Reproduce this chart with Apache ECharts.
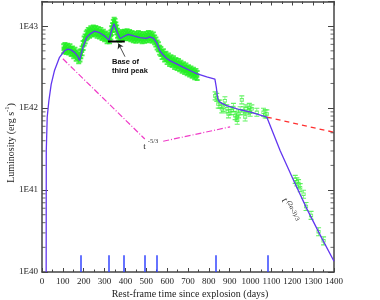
<!DOCTYPE html>
<html><head><meta charset="utf-8">
<script src="https://cdn.jsdelivr.net/npm/echarts@6/dist/echarts.min.js"></script>
<style>html,body{margin:0;padding:0;background:#fff}#c{width:380px;height:300px}</style>
</head><body><div id="c"></div>
<script>
// Model light curve (days, erg/s)
const modelCurve = [[20,1.0e40],[20.5,3.0e41],[25,7.8e41],[33,1.23e42],[44,1.95e42],[60,2.88e42],[84,4.17e42],[108,5.01e42],[124,5.25e42],[140,5.13e42],[156,4.79e42],[172,4.27e42],[180,3.80e42],[196,5.50e42],[213,7.24e42],[228,7.94e42],[252,8.71e42],[276,8.32e42],[300,7.59e42],[321,6.76e42],[333,8.71e42],[345,1.07e43],[352,1.05e43],[362,8.32e42],[374,7.08e42],[397,7.59e42],[413,7.94e42],[440,7.59e42],[469,7.24e42],[500,7.08e42],[517,7.41e42],[535,7.08e42],[549,6.31e42],[565,5.01e42],[580,4.47e42],[597,4.07e42],[613,3.80e42],[645,3.47e42],[676,3.16e42],[709,2.88e42],[741,2.63e42],[790,2.40e42],[829,2.26e42],[836,1.78e42],[842,1.32e42],[850,1.20e42],[861,1.15e42],[885,1.07e42],[950,9.55e41],[1000,8.91e41],[1078,7.76e41],[1142,3.02e41],[1206,1.32e41],[1270,5.89e40],[1340,2.63e40],[1400,1.35e40]];
// t^-5/3 guide (two segments)
const guideA = [[100,4.0e42],[493,4.2e41]];
const guideB = [[581,3.94e41],[902,5.9e41]];
// red dashed extension
const redExt = [[1078,7.76e41],[1400,5.07e41]];
// base of third peak
const basePeak = [[316,6.5e42],[397,6.5e42]];
// epochs marked at bottom
const epochDays = [185,321,392,494,549,833,1081];
// observed data
const greenDense = [[104,5.3e42],[110,5.5e42],[116,5.2e42],[122,5.4e42],[128,5.1e42],[134,5.3e42],[140,4.9e42],[146,5.0e42],[152,4.6e42],[158,4.8e42],[164,4.3e42],[170,4.5e42],[176,4.0e42],[182,4.2e42],[186,4.6e42],
[192,5.0e42],[197,5.8e42],[202,6.6e42],[207,7.0e42],[212,7.6e42],[217,7.9e42],[222,8.4e42],[228,8.2e42],[234,8.8e42],
[240,8.5e42],[246,9.0e42],[252,8.6e42],[258,8.9e42],[264,8.2e42],[270,8.6e42],[276,8.0e42],[282,8.4e42],[288,7.7e42],[294,8.0e42],[300,7.4e42],[306,7.6e42],[312,7.0e42],[318,7.3e42],[324,7.0e42],
[330,7.8e42],[334,8.8e42],[338,9.6e42],[342,1.05e43],[346,1.12e43],[350,1.08e43],[354,9.8e42],[358,9.0e42],[362,8.2e42],[366,7.6e42],[372,7.3e42],
[378,7.6e42],[384,7.9e42],[390,7.6e42],[396,8.0e42],[402,7.7e42],[408,8.1e42],[414,7.6e42],[420,7.9e42],[426,7.4e42],[432,7.7e42],[438,7.2e42],[444,7.5e42],[450,7.1e42],[456,7.4e42],[462,7.7e42],[468,7.2e42],[474,7.5e42],[480,7.0e42],[486,7.4e42],[492,7.1e42],[498,7.5e42],[504,7.2e42],[510,7.7e42],[516,7.3e42],[522,7.6e42],[528,7.1e42],[534,7.4e42],[540,6.8e42],[546,6.4e42],[552,5.9e42],[558,5.6e42],[564,5.1e42],[570,4.9e42],[576,4.5e42],[582,4.6e42],[588,4.2e42],[594,4.3e42],[600,3.9e42],[606,4.1e42],[612,3.7e42],[618,3.9e42],[624,3.6e42],[630,3.8e42],[636,3.4e42],[642,3.6e42],[648,3.3e42],[654,3.5e42],[660,3.2e42],[666,3.35e42],[672,3.05e42],[678,3.2e42],[684,2.95e42],[690,3.1e42],[696,2.85e42],[702,2.95e42],[708,2.75e42],[714,2.85e42],[720,2.65e42],[726,2.75e42],[732,2.55e42],[738,2.65e42],[744,2.5e42]];
const greenSparse = [[830,1.41e42],[838,1.35e42],[845,1.12e42],[853,1.12e42],[862,9.8e41],[869,1.02e42],[877,1.23e42],[886,9.8e41],[894,8.5e41],[902,9.3e41],[910,9.3e41],[918,1.02e42],[926,8.1e41],[934,7.8e41],[936,7.1e41],[942,8.5e41],[950,9.3e41],[958,1.26e42],[966,9.3e41],[974,7.8e41],[978,9.8e41],[990,9.3e41],[994,1.02e42],[998,8.9e41],[1006,9.8e41],[1030,8.9e41],[1062,8.9e41],[1070,8.5e41],[1078,8.5e41],
[1214,1.35e41],[1222,1.26e41],[1230,1.2e41],[1238,1.07e41],[1254,8.9e40],[1266,6.3e40],[1290,4.9e40],[1326,3.1e40],[1350,2.4e40]];
const yMajor = [1e40,1e41,1e42,1e43];
const yMinorMult = [2,3,4,5,6,7,8,9];
const yMinorDecades = [1e40,1e41,1e42];

const minorVals = [];
yMinorDecades.forEach(d => yMinorMult.forEach(m => minorVals.push(d*m)));

const errSym = 'path://M0,0H6M3,0V3.5M1,3.5H5V6.5H1ZM3,6.5V10M0,10H6';
const serif = 'Liberation Serif';
const axisCol = '#444';

const chart = echarts.init(document.getElementById('c'), null, {renderer:'canvas'});
const xAxisBase = {
  type:'value', min:0, max:1400, interval:100,
  axisLine:{show:true, onZero:false, lineStyle:{color:axisCol, width:1.5}},
  axisTick:{show:true, inside:true, length:4, lineStyle:{color:axisCol, width:1}},
  minorTick:{show:true, splitNumber:2, length:2.5, lineStyle:{color:axisCol, width:1}},
  splitLine:{show:false}, minorSplitLine:{show:false}
};
const yAxisBase = {
  type:'log', logBase:10, min:1e40, max:2e43,
  axisLine:{show:true, onZero:false, lineStyle:{color:axisCol, width:1.5}},
  axisTick:{show:true, inside:true, length:6, lineStyle:{color:axisCol, width:1}},
  splitLine:{show:false}
};
const fmtY = v => {
  const l = Math.log10(v), e = Math.round(l);
  if (Math.abs(l - e) > 1e-6) return '';
  const idx = yMajor.findIndex(t => Math.abs(Math.log10(t) - e) < 1e-6);
  return idx >= 0 ? '1E' + e : '';
};

chart.setOption({
  animation:false,
  backgroundColor:'#fff',
  grid:{left:42, top:1.5, width:292, height:270.5, outerBoundsMode:'none'},
  xAxis:[
    Object.assign({}, xAxisBase, {position:'bottom',
      axisLabel:{show:true, color:'#222', fontFamily:serif, fontSize:9, margin:5, formatter: v => String(v)}}),
    Object.assign({}, xAxisBase, {position:'top', axisLabel:{show:false}})
  ],
  yAxis:[
    Object.assign({}, yAxisBase, {position:'left',
      axisLabel:{show:true, color:'#222', fontFamily:serif, fontSize:9, margin:4, formatter:fmtY}}),
    Object.assign({}, yAxisBase, {position:'right', axisLabel:{show:false}})
  ],
  series:[
    {type:'scatter', data:greenDense, symbol:errSym, symbolSize:[5,9], clip:false, z:2,
     itemStyle:{color:'#2ee62e', borderColor:'#22ee22', borderWidth:1.4}},
    {type:'scatter', data:greenSparse, symbol:errSym, symbolSize:[5,8], clip:false, z:2,
     itemStyle:{color:'transparent', borderColor:'#3cf03c', borderWidth:0.9}},
    {type:'line', data:guideA, showSymbol:false, z:3,
     lineStyle:{color:'#f03cc8', width:1.2, type:[6,2,1,2]}},
    {type:'line', data:guideB, showSymbol:false, z:3,
     lineStyle:{color:'#f03cc8', width:1.2, type:[6,2,1,2]}},
    {type:'line', data:redExt, showSymbol:false, z:3,
     lineStyle:{color:'#ff3030', width:1.3, type:[5,4]}},
    {type:'line', data:modelCurve, showSymbol:false, z:4,
     lineStyle:{color:'#6236f0', width:1.3},
     markLine:{silent:true, symbol:'none', label:{show:false},
       lineStyle:{color:'#3344ff', width:1.5, type:'solid'},
       data: epochDays.map(d => [{coord:[d,1e40]},{coord:[d,1.6e40]}])}},
    {type:'line', data:basePeak, showSymbol:false, z:5,
     lineStyle:{color:'#000', width:2},
     markLine:{silent:true, symbol:['none','arrow'], symbolSize:5, label:{show:false},
       lineStyle:{color:'#222', width:0.8, type:'solid'},
       data:[[{coord:[398,4.24e42]},{coord:[366,6.15e42]}]]}},
    {type:'scatter', data:minorVals.map(v=>[0,v]), symbol:'rect', symbolSize:[3.5,1], symbolOffset:[1.75,0], clip:false, z:6,
     itemStyle:{color:axisCol}},
    {type:'scatter', data:minorVals.map(v=>[1400,v]), symbol:'rect', symbolSize:[3.5,1], symbolOffset:[-1.75,0], clip:false, z:6,
     itemStyle:{color:axisCol}}
  ],
  graphic:[
    {type:'text', x:112, y:57, style:{text:'Base of\nthird peak', font:'bold 7.5px Arial', fill:'#111', textAlign:'left', textVerticalAlign:'top', lineHeight:9}},
    {type:'text', x:144.5, y:147, style:{text:'t', font:'9px "Liberation Serif"', fill:'#222', textAlign:'center', textVerticalAlign:'middle'}},
    {type:'text', x:153, y:141, style:{text:'-5/3', font:'6.5px "Liberation Serif"', fill:'#333', textAlign:'center', textVerticalAlign:'middle'}},
    {type:'text', x:290, y:210, rotation:-65*Math.PI/180,
     style:{text:'{t|t}{s|(2α-3)/3}', textAlign:'center', textVerticalAlign:'middle', fill:'#222',
       rich:{t:{fontFamily:serif, fontSize:10, lineHeight:12, verticalAlign:'bottom'}, s:{fontFamily:serif, fontSize:6.5, lineHeight:12, verticalAlign:'top', padding:[0,0,0,1]}}}},
    {type:'text', x:10, y:143, rotation:Math.PI/2,
     style:{text:'{a|Luminosity (erg s}{b|-1}{a|)}', textAlign:'center', textVerticalAlign:'middle', fill:'#222',
       rich:{a:{fontFamily:serif, fontSize:10, lineHeight:12, verticalAlign:'bottom'}, b:{fontFamily:serif, fontSize:6.5, lineHeight:12, verticalAlign:'top'}}}},
    {type:'text', x:190, y:294, style:{text:'Rest-frame time since explosion (days)', font:'10px "Liberation Serif"', fill:'#222', textAlign:'center', textVerticalAlign:'middle'}}
  ]
});
</script></body></html>
